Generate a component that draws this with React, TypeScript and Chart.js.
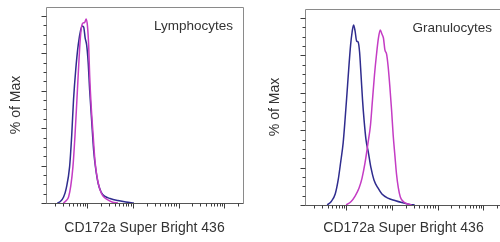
import React, { useEffect, useRef } from "react";
import { Chart, registerables } from "chart.js";

Chart.register(...registerables);

// ---- Data (x in decades of fluorescence, y in % of max) ----
const lymphIsotypeX = [1.348, 1.413, 1.485, 1.544, 1.616, 1.663, 1.702, 1.75, 1.805, 1.859, 1.892, 1.924, 1.957, 1.989, 2.022, 2.055, 2.098, 2.142, 2.185, 2.239, 2.305, 2.392, 2.5, 2.674, 2.848, 3.022];
const lymphIsotypeY = [0, 0.8, 3.2, 8.0, 19.3, 36.4, 55.1, 71.1, 84.5, 92.5, 94.7, 94.1, 88.2, 84.5, 75.4, 60.4, 44.4, 28.3, 18.7, 10.7, 5.9, 3.5, 2.4, 1.3, 0.5, 0];

const lymphStainedX = [1.479, 1.544, 1.594, 1.642, 1.689, 1.735, 1.776, 1.816, 1.848, 1.881, 1.913, 1.946, 1.979, 2.007, 2.033, 2.055, 2.087, 2.131, 2.174, 2.229, 2.283, 2.348, 2.435, 2.544, 2.674];
const lymphStainedY = [0, 1.3, 3.2, 9.1, 19.3, 36.4, 55.1, 73.8, 87.2, 94.7, 96.3, 96.5, 98.4, 94.7, 84.5, 68.4, 52.4, 36.4, 21.9, 12.3, 7.0, 3.7, 1.9, 0.5, 0];

const granIsotypeX = [1.587, 1.674, 1.761, 1.826, 1.881, 1.935, 1.979, 2.016, 2.055, 2.098, 2.131, 2.163, 2.196, 2.229, 2.261, 2.294, 2.326, 2.359, 2.392, 2.435, 2.485, 2.544, 2.609, 2.696, 2.783, 2.913, 3.066, 3.218, 3.392, 3.5];
const granIsotypeY = [0, 1.9, 5.9, 13.4, 23.0, 33.2, 46.5, 58.8, 72.2, 85.6, 92.5, 96.3, 93.0, 87.7, 87.2, 81.8, 69.5, 56.1, 45.5, 34.8, 28.3, 19.8, 13.4, 9.1, 5.9, 3.7, 2.4, 1.3, 0.3, 0];

const granStainedX = [2.0, 2.109, 2.196, 2.283, 2.348, 2.413, 2.479, 2.533, 2.576, 2.62, 2.663, 2.707, 2.746, 2.783, 2.816, 2.848, 2.885, 2.92, 2.957, 2.994, 3.029, 3.066, 3.102, 3.142, 3.185, 3.261, 3.348, 3.435];
const granStainedY = [0, 1.9, 4.8, 9.1, 14.4, 22.5, 33.2, 42.8, 56.1, 69.5, 80.2, 89.3, 93.6, 91.4, 89.3, 82.9, 80.7, 73.8, 63.1, 50.8, 37.4, 26.7, 16.6, 9.1, 4.3, 1.6, 0.5, 0];

// ---- Axis ticks ----
const xMajorTicks = [2, 3, 4, 5];
const xMinorDecades = [1, 2, 3, 4, 5];
const xMinorMultipliers = [2, 3, 4, 5, 6, 7, 8, 9];
const yMajorTicks = [0, 20, 40, 60, 80, 100];
const yMinorTicks = [5, 10, 15, 25, 30, 35, 45, 50, 55, 65, 70, 75, 85, 90, 95];

const X_MIN = 1.1;
const X_MAX = 5.41;
const Y_MAX = 104.8;

const X_TITLE = "CD172a Super Bright 436";
const Y_TITLE = "% of Max";
const LABELS = ["Lymphocytes", "Granulocytes"];

const BLUE = "#2f2c8e";
const MAGENTA = "#c43cc4";
const FONT = "'Liberation Sans', Arial, sans-serif";

type PanelProps = {
  label: string;
  isoX: number[];
  isoY: number[];
  stX: number[];
  stY: number[];
  left: number;
  padTop: number;
  xHeight: number;
};

function Panel({ label, isoX, isoY, stX, stY, left, padTop, xHeight }: PanelProps) {
  const ref = useRef<HTMLCanvasElement>(null);

  useEffect(() => {
    const canvas = ref.current;
    if (!canvas) return;

    const xMinorTicks: number[] = [];
    xMinorDecades.forEach((d) =>
      xMinorMultipliers.forEach((k) => {
        const v = d + Math.log10(k);
        if (v > X_MIN && v < X_MAX) xMinorTicks.push(v);
      })
    );

    const frame = {
      id: "frame",
      afterDraw(chart: any) {
        const { ctx, chartArea: a, scales } = chart;
        const xs = scales.x;
        const ys = scales.y;
        const L = Math.round(a.left) + 0.5;
        const T = Math.round(a.top) + 0.5;
        const R = Math.round(a.right) + 0.5;
        const B = Math.round(a.bottom) + 0.5;
        ctx.save();
        ctx.lineWidth = 1;
        ctx.strokeStyle = "#8a8a8a";
        ctx.beginPath();
        ctx.moveTo(L, B);
        ctx.lineTo(L, T);
        ctx.lineTo(R, T);
        ctx.lineTo(R, B);
        ctx.stroke();
        ctx.strokeStyle = "#555555";
        ctx.beginPath();
        ctx.moveTo(L, B);
        ctx.lineTo(R, B);
        ctx.stroke();

        ctx.strokeStyle = "#3c3c3c";
        ctx.beginPath();
        xMajorTicks.forEach((v) => {
          const p = Math.round(xs.getPixelForValue(v)) + 0.5;
          ctx.moveTo(p, B);
          ctx.lineTo(p, B + 5);
        });
        xMinorTicks.forEach((v) => {
          const p = Math.round(xs.getPixelForValue(v)) + 0.5;
          ctx.moveTo(p, B);
          ctx.lineTo(p, B + 3);
        });
        yMajorTicks.forEach((v) => {
          const p = Math.round(ys.getPixelForValue(v)) + 0.5;
          ctx.moveTo(L - 5, p);
          ctx.lineTo(L, p);
        });
        yMinorTicks.forEach((v) => {
          const p = Math.round(ys.getPixelForValue(v)) + 0.5;
          ctx.moveTo(L - 3, p);
          ctx.lineTo(L, p);
        });
        ctx.stroke();

        ctx.fillStyle = "#333333";
        ctx.font = `13.5px ${FONT}`;
        ctx.textAlign = "right";
        ctx.textBaseline = "middle";
        ctx.fillText(label, a.right - 10, a.top + 19);
        ctx.restore();
      },
    };

    const chart = new Chart(canvas, {
      type: "line",
      data: {
        datasets: [
          {
            data: stX.map((x, i) => ({ x, y: stY[i] })),
            borderColor: MAGENTA,
            borderWidth: 1.5,
            pointRadius: 0,
            cubicInterpolationMode: "monotone",
            fill: false,
          },
          {
            data: isoX.map((x, i) => ({ x, y: isoY[i] })),
            borderColor: BLUE,
            borderWidth: 1.5,
            pointRadius: 0,
            cubicInterpolationMode: "monotone",
            fill: false,
          },
        ],
      },
      options: {
        animation: false,
        responsive: false,
        devicePixelRatio: 1,
        layout: { padding: { top: padTop, right: 7, left: 0, bottom: 0 } },
        plugins: { legend: { display: false }, tooltip: { enabled: false } },
        scales: {
          x: {
            type: "linear",
            min: X_MIN,
            max: X_MAX,
            grid: { display: false },
            border: { display: false },
            ticks: { display: false },
            title: {
              display: true,
              text: X_TITLE,
              color: "#333333",
              font: { family: FONT, size: 14 },
              padding: { top: 0, bottom: 5 },
            },
            afterFit: (s: any) => {
              s.height = xHeight;
            },
          },
          y: {
            type: "linear",
            min: 0,
            max: Y_MAX,
            grid: { display: false },
            border: { display: false },
            ticks: { display: false },
            title: {
              display: true,
              text: Y_TITLE,
              color: "#333333",
              font: { family: FONT, size: 14 },
              padding: { top: 8, bottom: 0 },
            },
            afterFit: (s: any) => {
              s.width = 46;
            },
          },
        },
      } as any,
      plugins: [frame],
    });

    return () => chart.destroy();
  }, []);

  return (
    <div style={{ position: "absolute", left, top: 0, width: 250, height: 242 }}>
      <canvas ref={ref} width={250} height={242} style={{ display: "block" }} />
    </div>
  );
}

export default function App() {
  return (
    <div
      style={{
        position: "fixed",
        left: 0,
        top: 0,
        width: 500,
        height: 242,
        overflow: "hidden",
        background: "#ffffff",
      }}
    >
      <Panel
        label={LABELS[0]}
        isoX={lymphIsotypeX}
        isoY={lymphIsotypeY}
        stX={lymphStainedX}
        stY={lymphStainedY}
        left={0}
        padTop={7}
        xHeight={39}
      />
      <Panel
        label={LABELS[1]}
        isoX={granIsotypeX}
        isoY={granIsotypeY}
        stX={granStainedX}
        stY={granStainedY}
        left={259}
        padTop={9}
        xHeight={37}
      />
    </div>
  );
}
